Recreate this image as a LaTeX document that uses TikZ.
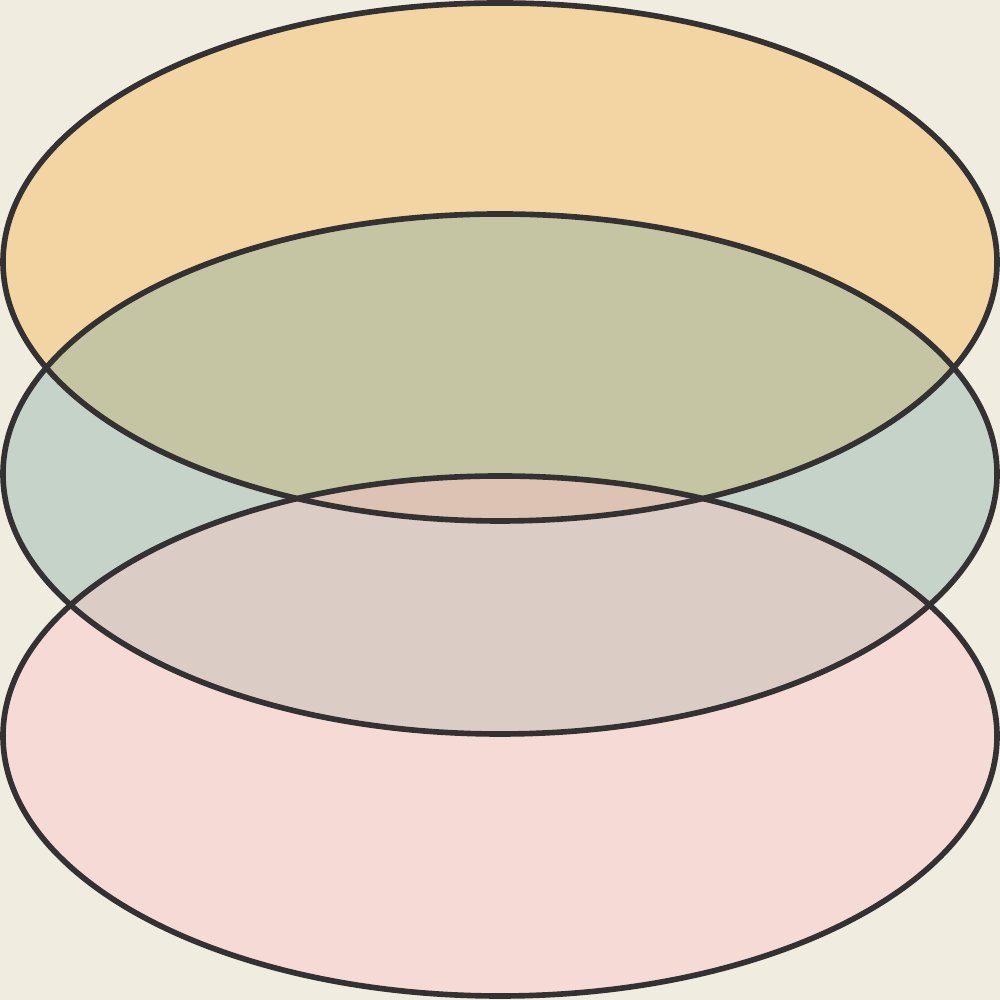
\documentclass[tikz,border=0pt]{standalone}
\usepackage{tikz}
\definecolor{bg}{HTML}{F0ECE0}
\definecolor{ctop}{HTML}{F2D5A3}
\definecolor{cmid}{HTML}{C6D3C8}
\definecolor{cbot}{HTML}{F6DAD5}
\definecolor{ctm}{HTML}{C5C5A3}
\definecolor{cmb}{HTML}{DCCCC6}
\definecolor{call}{HTML}{DCC3B3}
\definecolor{edge}{HTML}{333131}
\begin{document}
\begin{tikzpicture}
\useasboundingbox (0,0) rectangle (10,10);
\fill[bg] (0,0) rectangle (10,10);
\def\topE{(5,7.38) ellipse [x radius=4.97, y radius=2.59]}
\def\midE{(5,5.26) ellipse [x radius=4.97, y radius=2.60]}
\def\botE{(5,2.64) ellipse [x radius=4.97, y radius=2.60]}
\fill[ctop] \topE;
\fill[cmid] \midE;
\fill[cbot] \botE;
\begin{scope}
\clip \topE;
\fill[ctm] \midE;
\end{scope}
\begin{scope}
\clip \midE;
\fill[cmb] \botE;
\end{scope}
\begin{scope}
\clip \topE;
\clip \midE;
\fill[call] \botE;
\end{scope}
\draw[edge, line width=1.6pt] \topE;
\draw[edge, line width=1.6pt] \midE;
\draw[edge, line width=1.6pt] \botE;
\end{tikzpicture}
\end{document}
